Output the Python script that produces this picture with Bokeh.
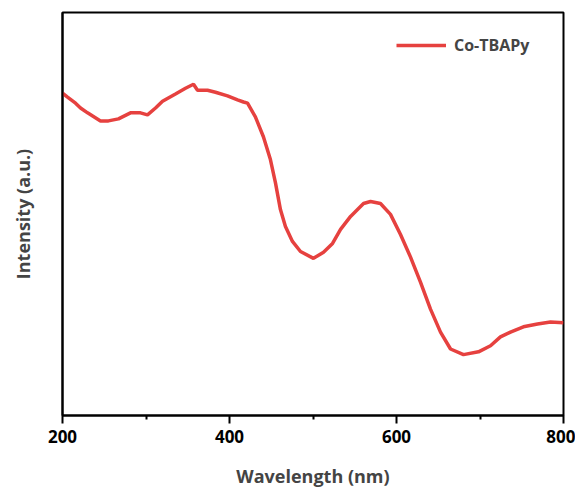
from bokeh.plotting import figure
from bokeh.models import Range1d, FixedTicker, Legend, LegendItem
from bokeh.embed import file_html
from bokeh.resources import INLINE

wavelength = [200, 206, 215.6, 221.6, 230, 245.5, 255, 267, 281.4, 293.4, 301.8, 311.4,
              319.8, 335.3, 347.3, 356.9, 361.7, 373.7, 383.2, 397.6, 409.6, 416.8,
              421.6, 431, 440.7, 449, 455, 461, 467, 475.4, 485, 500.6, 512.6, 523.4,
              533, 545, 560.5, 568.9, 580.8, 592.8, 604.8, 616.8, 628.7, 640.7, 652.7,
              664.7, 680.2, 698.2, 712.6, 724.5, 736.5, 752, 768.9, 784.4, 800]
intensity = [0.800, 0.790, 0.775, 0.763, 0.751, 0.731, 0.731, 0.736, 0.751, 0.751, 0.746,
             0.763, 0.780, 0.798, 0.812, 0.822, 0.807, 0.807, 0.802, 0.793, 0.783, 0.778,
             0.775, 0.741, 0.691, 0.635, 0.578, 0.511, 0.469, 0.432, 0.407, 0.390, 0.405,
             0.427, 0.462, 0.494, 0.526, 0.531, 0.526, 0.499, 0.449, 0.393, 0.331, 0.264,
             0.207, 0.165, 0.151, 0.158, 0.173, 0.195, 0.207, 0.220, 0.227, 0.232, 0.230]
x_ticks = [200, 400, 600, 800]
series_name = "Co-TBAPy"

FONT = "Open Sans"

p = figure(width=575, height=490, output_backend="svg", toolbar_location=None,
           x_range=Range1d(200, 800), y_range=Range1d(0, 1),
           min_border_left=62, min_border_right=12, min_border_top=12, min_border_bottom=10)

p.xgrid.visible = False
p.ygrid.visible = False
p.background_fill_color = "white"
p.border_fill_color = "white"
p.outline_line_color = "black"
p.outline_line_width = 2

r = p.line(wavelength, intensity, line_color="#e6413f", line_width=3.5)

xa = p.xaxis[0]
xa.ticker = FixedTicker(ticks=x_ticks, minor_ticks=[300, 500, 700])
xa.axis_line_width = 2
xa.major_tick_line_width = 2
xa.minor_tick_line_width = 2
xa.major_tick_out = 8
xa.major_tick_in = 0
xa.minor_tick_out = 4
xa.minor_tick_in = 0
xa.major_label_text_font = FONT
xa.major_label_text_font_style = "bold"
xa.major_label_text_font_size = "17px"
xa.major_label_text_color = "black"
xa.major_label_standoff = 6
xa.axis_label = "Wavelength (nm)"
xa.axis_label_text_font = FONT
xa.axis_label_text_font_style = "bold"
xa.axis_label_text_font_size = "18px"
xa.axis_label_standoff = 18

ya = p.yaxis[0]
ya.ticker = FixedTicker(ticks=[])
ya.major_label_text_font_size = "0px"
ya.axis_line_width = 2
ya.axis_label = "Intensity (a.u.)"
ya.axis_label_text_font = FONT
ya.axis_label_text_font_style = "bold"
ya.axis_label_text_font_size = "18px"
ya.axis_label_standoff = 28

legend = Legend(items=[LegendItem(label=series_name, renderers=[r])],
                location=(334, 359), border_line_color=None, background_fill_alpha=0,
                label_text_font=FONT, label_text_font_style="bold",
                label_text_font_size="16px", glyph_width=50, label_standoff=8,
                margin=0, padding=6)
p.add_layout(legend)

open("out.html", "w").write(file_html(p, INLINE))
